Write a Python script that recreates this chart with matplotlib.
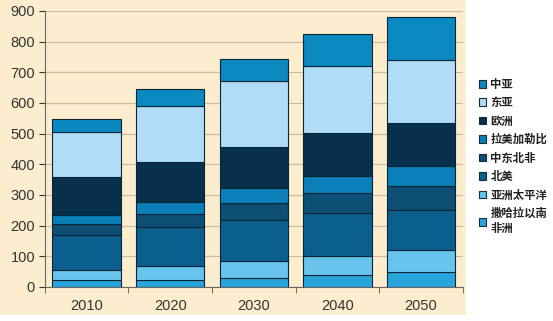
import matplotlib.pyplot as plt
import matplotlib.patches as mpatches
import numpy as np

plt.rcParams['font.family'] = ['Noto Sans CJK SC', 'DejaVu Sans']

years = ['2010', '2020', '2030', '2040', '2050']
regions = ['撒哈拉以南\n非洲', '亚洲太平洋', '北美', '中东北非', '拉美加勒比', '欧洲', '东亚', '中亚']

ssa = [24, 24, 29, 39, 50]
asia_pacific = [32, 43, 55, 63, 69]
north_america = [112, 127, 135, 139, 131]
mena = [38, 45, 55, 65, 80]
latam = [30, 37, 48, 57, 66]
europe = [122, 130, 133, 139, 137]
east_asia = [146, 185, 217, 220, 208]
central_asia = [44, 53, 71, 102, 138]

series = [ssa, asia_pacific, north_america, mena, latam, europe, east_asia, central_asia]
colors = ['#29a5dd', '#68c4ec', '#0a5f8e', '#0c4e74', '#0b7fb9', '#06304c', '#b1dcf8', '#0a89c1']

bg = '#fcedcf'
fig = plt.figure(figsize=(5.53, 3.21), dpi=100)
fig.patch.set_facecolor('white')
fig.patches.append(mpatches.Rectangle((0, 0.02), 0.843, 0.98, transform=fig.transFigure,
                                      facecolor=bg, edgecolor='none', zorder=-10))

ax = fig.add_axes([0.081, 0.106, 0.756, 0.86])
ax.set_facecolor(bg)

x = np.arange(len(years))
bottom = np.zeros(len(years))
handles = []
for vals, c, name in zip(series, colors, regions):
    ax.bar(x, vals, bottom=bottom, width=0.82, color=c, edgecolor='#0b2436',
           linewidth=0.8, zorder=3)
    handles.append(mpatches.Patch(facecolor=c, edgecolor='#1a2a36', linewidth=0.8, label=name))
    bottom += np.array(vals)

ax.set_xlim(-0.5, len(years) - 0.5)
ax.set_ylim(0, 900)
ax.set_yticks(range(0, 901, 100))
ax.yaxis.grid(True, color='#c9bda4', linewidth=0.9, zorder=0)
ax.set_xticks(x)
ax.set_xticklabels(years)
ax.set_xticks(np.arange(-0.5, len(years)), minor=True)
ax.tick_params(axis='x', which='major', length=0, labelsize=10.5, colors='#333333', pad=9)
ax.tick_params(axis='x', which='minor', length=4, color='#555555', direction='out')
ax.tick_params(axis='y', length=4, labelsize=10.5, colors='#333333', direction='out', pad=3)
for lbl in ax.get_xticklabels() + ax.get_yticklabels():
    lbl.set_family(['Liberation Sans', 'DejaVu Sans'])
for side in ['top', 'right']:
    ax.spines[side].set_visible(False)
for side in ['left', 'bottom']:
    ax.spines[side].set_color('#666666')
    ax.spines[side].set_linewidth(0.8)

leg = fig.legend(handles=handles[::-1], loc='upper left', bbox_to_anchor=(0.858, 0.772),
                 frameon=False, fontsize=8.2, handlelength=0.65, handleheight=0.65,
                 handletextpad=0.35, labelspacing=0.48, borderaxespad=0)
for t in leg.get_texts():
    t.set_fontweight('bold')
    t.set_color('#222222')

plt.savefig('out.png', dpi=100, facecolor=fig.get_facecolor())
